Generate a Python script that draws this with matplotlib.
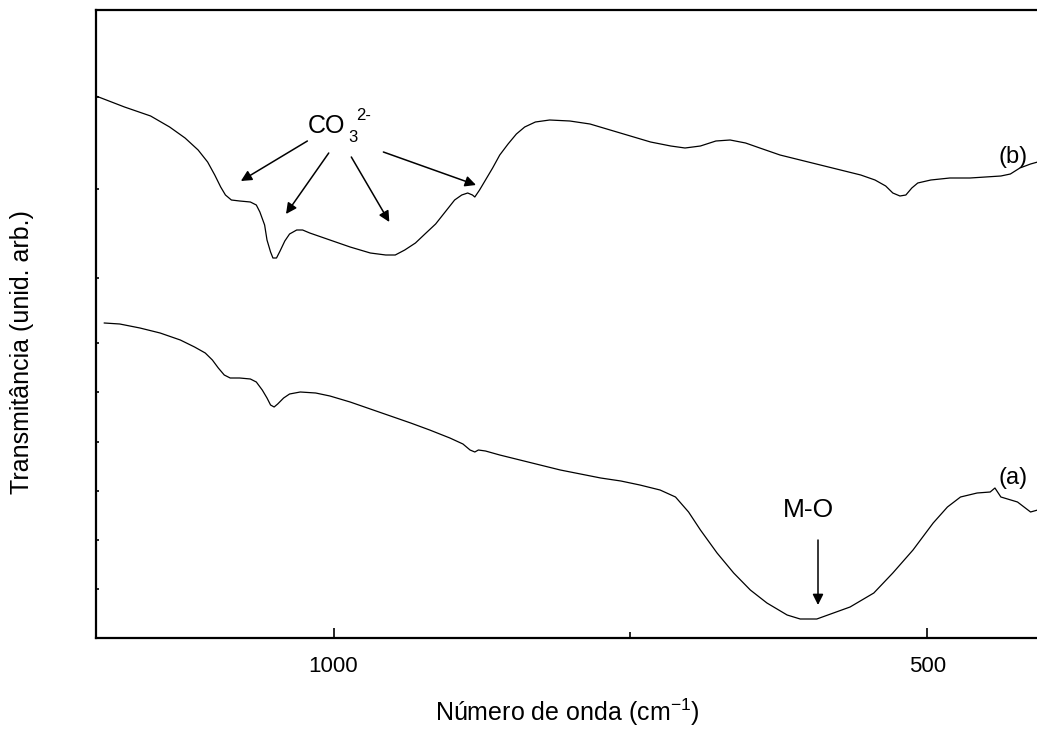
import matplotlib
matplotlib.use("Agg")
import matplotlib.pyplot as plt

plt.rcParams['font.family'] = ['Liberation Sans', 'DejaVu Sans']

# FTIR spectra (wavenumber in cm^-1, transmittance in arbitrary units)
wn_b = [1200, 1176, 1154, 1138, 1125, 1114, 1106, 1100, 1095, 1091, 1086, 1079,
        1070, 1065, 1062, 1058, 1056, 1053, 1051, 1048, 1045, 1041, 1037, 1031,
        1026, 1020, 1003, 986, 969, 956, 948, 940, 931, 923, 914, 906, 898,
        892, 887, 883, 881, 877, 872, 866, 860, 853, 846, 839, 830, 818, 801,
        784, 767, 750, 733, 716, 704, 691, 678, 666, 653, 641, 624, 607, 590,
        573, 556, 544, 535, 529, 523, 518, 513, 508, 497, 481, 464, 451, 438,
        430, 422, 413, 407, 400]
tr_b = [542, 531, 522, 511, 500, 488, 476, 463, 451, 443, 438, 437,
        436, 433, 426, 413, 398, 386, 380, 380, 387, 397, 404, 408,
        408, 405, 398, 391, 385, 383, 383, 388, 395, 404, 414, 426, 438,
        443, 445, 443, 441, 448, 458, 470, 483, 494, 504, 511, 516, 518, 517,
        514, 508, 502, 496, 492, 490, 492, 497, 498, 495, 490, 483, 478, 473,
        468, 463, 458, 452, 445, 442, 443, 450, 455, 458, 460, 460, 461, 462,
        464, 470, 474, 476, 478]

wn_a = [1193, 1180, 1163, 1146, 1129, 1117, 1108, 1102, 1097, 1092, 1087, 1079,
        1070, 1065, 1060, 1056, 1053, 1050, 1047, 1042, 1037, 1028, 1015, 1003,
        986, 969, 952, 935, 919, 902, 891, 885, 881, 878, 872, 860, 843, 826,
        809, 792, 775, 758, 742, 725, 712, 701, 691, 677, 663, 649, 635, 618,
        607, 593, 579, 565, 545, 529, 512, 495, 483, 472, 458, 447, 443, 438,
        424, 413, 407, 400]
tr_a = [315, 314, 310, 305, 298, 291, 285, 278, 270, 263, 260, 260,
        259, 256, 248, 240, 233, 231, 234, 240, 244, 246, 245, 242,
        236, 229, 222, 215, 208, 200, 194, 188, 186, 188, 187, 183, 178, 173,
        168, 164, 160, 157, 153, 148, 141, 126, 108, 85, 65, 48, 35, 23,
        19, 19, 25, 31, 45, 65, 88, 115, 131, 141, 145, 146, 150, 141,
        136, 126, 128, 126]

y_ticks = [49, 98, 147, 196, 246, 295, 360, 449, 541]

fig = plt.figure(figsize=(10.37, 7.31), dpi=100)
ax = fig.add_axes([96 / 1037, 93 / 731, 950 / 1037, 628 / 731])

ax.plot(wn_b, tr_b, color='black', lw=0.9)
ax.plot(wn_a, tr_a, color='black', lw=0.9)

ax.set_xlim(1200, 400)
ax.set_ylim(0, 628)

ax.set_xticks([1000, 500])
ax.set_xticklabels(['1000', '500'])
ax.set_xticks([750], minor=True)
ax.set_yticks(y_ticks)
ax.set_yticklabels([])
ax.tick_params(axis='x', which='major', direction='in', length=7, width=1.2,
               labelsize=16, pad=13)
ax.tick_params(axis='x', which='minor', direction='in', length=4, width=1.2)
ax.tick_params(axis='y', direction='in', length=2.5, width=1.2)
for s in ax.spines.values():
    s.set_linewidth(1.6)

ax.set_xlabel('Número de onda (cm$^{\\mathregular{-1}}$)', fontsize=18)
ax.set_ylabel('Transmitância (unid. arb.)', fontsize=18)
ax.xaxis.set_label_coords(0.496, -0.118)
ax.yaxis.set_label_coords(-0.078, 0.455)
ax.xaxis.label.set_va('center')
ax.yaxis.label.set_va('center')

# carbonate band labels
ax.text(1006, 512, 'CO', fontsize=18, ha='center', va='center')
ax.text(984, 500, '3', fontsize=12, ha='center', va='center')
ax.text(975, 523, '2-', fontsize=12, ha='center', va='center')

arrows = [((1022, 497), (1078, 457)),
          ((1004, 485), (1040, 424)),
          ((985, 481), (953, 416)),
          ((958, 486), (880, 453))]
for start, end in arrows:
    ax.annotate('', xy=end, xytext=start,
                arrowprops=dict(arrowstyle='-|>', color='black', lw=1.1,
                                mutation_scale=16, shrinkA=0, shrinkB=0))

ax.text(600, 128, 'M-O', fontsize=19, ha='center', va='center')
ax.annotate('', xy=(592, 33), xytext=(592, 98),
            arrowprops=dict(arrowstyle='-|>', color='black', lw=1.1,
                            mutation_scale=16, shrinkA=0, shrinkB=0))

ax.text(428, 160, '(a)', fontsize=17, ha='center', va='center')
ax.text(428, 481, '(b)', fontsize=17, ha='center', va='center')

fig.savefig('out.png', dpi=100)
